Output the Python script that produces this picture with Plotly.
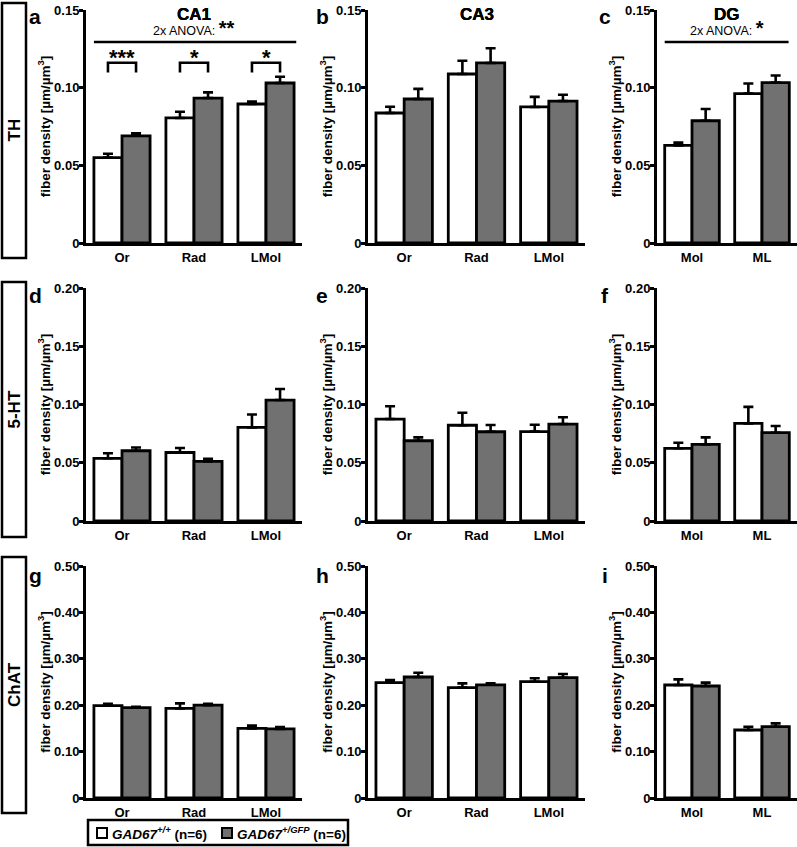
import plotly.graph_objects as go

# ---------------- data ----------------
ca_regions = ["Or", "Rad", "LMol"]
dg_regions = ["Mol", "ML"]

# TH
th_ca1_wt = [0.055, 0.0805, 0.0895]
th_ca1_wt_err = [0.0025, 0.004, 0.0015]
th_ca1_gfp = [0.069, 0.0933, 0.103]
th_ca1_gfp_err = [0.0017, 0.0037, 0.004]
th_ca3_wt = [0.0837, 0.1088, 0.0876]
th_ca3_wt_err = [0.004, 0.0085, 0.0065]
th_ca3_gfp = [0.0927, 0.1159, 0.0914]
th_ca3_gfp_err = [0.0065, 0.0095, 0.004]
th_dg_wt = [0.0628, 0.0962]
th_dg_wt_err = [0.0018, 0.0065]
th_dg_gfp = [0.0787, 0.1033]
th_dg_gfp_err = [0.0076, 0.0045]

# 5-HT
ht_ca1_wt = [0.0538, 0.0588, 0.0804]
ht_ca1_wt_err = [0.0043, 0.0038, 0.011]
ht_ca1_gfp = [0.0603, 0.0512, 0.1038]
ht_ca1_gfp_err = [0.0028, 0.0022, 0.0095]
ht_ca3_wt = [0.0875, 0.0822, 0.0768]
ht_ca3_wt_err = [0.011, 0.0107, 0.0058]
ht_ca3_gfp = [0.0689, 0.0766, 0.0832]
ht_ca3_gfp_err = [0.0029, 0.0058, 0.0058]
ht_dg_wt = [0.0624, 0.0838]
ht_dg_wt_err = [0.0048, 0.0142]
ht_dg_gfp = [0.0658, 0.0758]
ht_dg_gfp_err = [0.006, 0.0057]

# ChAT
chat_ca1_wt = [0.199, 0.193, 0.150]
chat_ca1_wt_err = [0.004, 0.011, 0.006]
chat_ca1_gfp = [0.1946, 0.200, 0.149]
chat_ca1_gfp_err = [0.002, 0.003, 0.004]
chat_ca3_wt = [0.2486, 0.2378, 0.2507]
chat_ca3_wt_err = [0.0058, 0.0092, 0.0073]
chat_ca3_gfp = [0.2608, 0.244, 0.2593]
chat_ca3_gfp_err = [0.0092, 0.003, 0.0079]
chat_dg_wt = [0.2435, 0.1465]
chat_dg_wt_err = [0.0122, 0.0072]
chat_dg_gfp = [0.2414, 0.1537]
chat_dg_gfp_err = [0.0072, 0.0072]

row_markers = ["TH", "5-HT", "ChAT"]
panel_letters = ["a", "b", "c", "d", "e", "f", "g", "h", "i"]
panel_titles = ["CA1", "CA3", "DG"]
row_ymax = [0.15, 0.20, 0.50]
row_tickvals = [[0, 0.05, 0.10, 0.15],
                [0, 0.05, 0.10, 0.15, 0.20],
                [0, 0.10, 0.20, 0.30, 0.40, 0.50]]
row_ticktext = [["0", "0.05", "0.10", "0.15"],
                ["0", "0.05", "0.10", "0.15", "0.20"],
                ["0", "0.10", "0.20", "0.30", "0.40", "0.50"]]

wt_name = "<i>GAD67<sup>+/+</sup></i> (n=6)"
gfp_name = "<i>GAD67<sup>+/GFP</sup></i> (n=6)"

panels = [
    (ca_regions, th_ca1_wt, th_ca1_wt_err, th_ca1_gfp, th_ca1_gfp_err),
    (ca_regions, th_ca3_wt, th_ca3_wt_err, th_ca3_gfp, th_ca3_gfp_err),
    (dg_regions, th_dg_wt, th_dg_wt_err, th_dg_gfp, th_dg_gfp_err),
    (ca_regions, ht_ca1_wt, ht_ca1_wt_err, ht_ca1_gfp, ht_ca1_gfp_err),
    (ca_regions, ht_ca3_wt, ht_ca3_wt_err, ht_ca3_gfp, ht_ca3_gfp_err),
    (dg_regions, ht_dg_wt, ht_dg_wt_err, ht_dg_gfp, ht_dg_gfp_err),
    (ca_regions, chat_ca1_wt, chat_ca1_wt_err, chat_ca1_gfp, chat_ca1_gfp_err),
    (ca_regions, chat_ca3_wt, chat_ca3_wt_err, chat_ca3_gfp, chat_ca3_gfp_err),
    (dg_regions, chat_dg_wt, chat_dg_wt_err, chat_dg_gfp, chat_dg_gfp_err),
]

# ---------------- layout geometry (pixels) ----------------
W, H = 797, 847
FONT = "Liberation Sans, Arial, sans-serif"
GRAY = "#717171"
col_px = [(86, 302), (368, 585), (657, 797)]
row_px = [(10, 243), (288, 521), (566, 798)]
row_box_px = [(3, 258), (282, 537), (557, 813)]
letter_x_px = [35, 322, 605]
letter_y_px = [17, 295, 575]


def px_x(v):
    return v / W


def px_y(v):
    return 1 - v / H


fig = go.Figure()

for i, (cats, wt, wt_err, gfp, gfp_err) in enumerate(panels):
    r, c = divmod(i, 3)
    ax = "" if i == 0 else str(i + 1)
    zeros = [0] * len(cats)
    for name, vals, err, fill in [(wt_name, wt, wt_err, "white"), (gfp_name, gfp, gfp_err, GRAY)]:
        fig.add_trace(go.Bar(
            x=cats, y=vals, name=name, xaxis="x" + ax, yaxis="y" + ax,
            marker=dict(color=fill, line=dict(color="black", width=2.8)),
            error_y=dict(type="data", array=err, arrayminus=zeros, symmetric=False,
                         color="black", thickness=2.6, width=5),
            showlegend=False,
        ))

    x0, x1 = col_px[c]
    y0, y1 = row_px[r]
    fig.layout["xaxis" + ax] = dict(
        domain=[px_x(x0), px_x(x1)], anchor="y" + ax, type="category",
        range=[-0.5, len(cats) - 0.5], showline=True, linewidth=3, linecolor="black",
        ticks="", showgrid=False, zeroline=False,
        tickfont=dict(family=FONT, size=13, color="black", weight="bold"),
    )
    fig.layout["yaxis" + ax] = dict(
        domain=[px_y(y1), px_y(y0)], anchor="x" + ax, range=[0, row_ymax[r]],
        showline=True, linewidth=3, linecolor="black", showgrid=False, zeroline=False,
        ticks="outside", ticklen=4, tickwidth=2.5, tickcolor="black", ticklabelstandoff=-3,
        tickvals=row_tickvals[r], ticktext=row_ticktext[r],
        tickfont=dict(family=FONT, size=13, color="black", weight="bold"),
        title=dict(text="fiber density [µm/µm<sup>3</sup>]", standoff=1,
                   font=dict(family=FONT, size=13.5, color="black", weight="bold")),
    )

    # panel title and letter
    fig.add_annotation(text=panel_titles[c], xref="x" + ax + " domain", yref="y" + ax + " domain",
                       x=0.5, y=(y1 - 14) / (y1 - y0), xanchor="center", yanchor="middle",
                       showarrow=False, font=dict(family=FONT, size=17, color="black", weight="bold"))
    fig.add_annotation(text=panel_letters[i], xref="paper", yref="paper",
                       x=px_x(letter_x_px[c]), y=px_y(letter_y_px[r]), xanchor="center", yanchor="middle",
                       showarrow=False, font=dict(family=FONT, size=21, color="black", weight="bold"))

# row marker boxes
for r, label in enumerate(row_markers):
    b0, b1 = row_box_px[r]
    fig.add_shape(type="rect", xref="paper", yref="paper",
                  x0=px_x(2), x1=px_x(26), y0=px_y(b1), y1=px_y(b0),
                  line=dict(color="black", width=2.5), fillcolor="white")
    fig.add_annotation(text=label, xref="paper", yref="paper", textangle=-90,
                       x=px_x(14), y=px_y((b0 + b1) / 2), xanchor="center", yanchor="middle",
                       showarrow=False, font=dict(family=FONT, size=17, color="black", weight="bold"))

# significance marks
half = 0.195
for k, stars in enumerate(["***", "*", "*"]):
    fig.add_shape(type="path", xref="x", yref="y", line=dict(color="black", width=2.6),
                  path=f"M {k - half},0.1098 L {k - half},0.1160 L {k + half},0.1160 L {k + half},0.1098")
    fig.add_annotation(text=stars, xref="x", yref="y", x=k, y=0.1100, xanchor="center", yanchor="bottom",
                       showarrow=False, font=dict(family=FONT, size=22, color="black", weight="bold"))

for ax, xr, stars in [("", (-0.39, 2.42), "**"), ("3", (-0.39, 1.38), "*")]:
    fig.add_shape(type="line", xref="x" + ax, yref="y" + ax, x0=xr[0], x1=xr[1], y0=0.1294, y1=0.1294,
                  line=dict(color="black", width=2.6))
    fig.add_annotation(text=f"2x ANOVA: <span style='font-size:20px'><b>{stars}</b></span>",
                       xref="x" + ax + " domain", yref="y" + ax, x=0.5, y=0.1302,
                       xanchor="center", yanchor="bottom",
                       showarrow=False, font=dict(family=FONT, size=12.5, color="black"))

# legend box, drawn by hand to match the compact original
fig.add_shape(type="rect", xref="paper", yref="paper", x0=px_x(88), x1=px_x(348),
              y0=px_y(845), y1=px_y(820), line=dict(color="black", width=2.5), fillcolor="white")
for sx, fill, name in [(97, "white", wt_name), (222, GRAY, gfp_name)]:
    fig.add_shape(type="rect", xref="paper", yref="paper", x0=px_x(sx), x1=px_x(sx + 10),
                  y0=px_y(838), y1=px_y(828), line=dict(color="black", width=2), fillcolor=fill)
    fig.add_annotation(text=name, xref="paper", yref="paper", x=px_x(sx + 13), y=px_y(833),
                       xanchor="left", yanchor="middle", showarrow=False,
                       font=dict(family=FONT, size=13.5, color="black", weight="bold"))

fig.update_layout(
    width=W, height=H, margin=dict(l=0, r=0, t=0, b=0, autoexpand=False),
    paper_bgcolor="white", plot_bgcolor="white",
    barmode="group", bargap=0.22, bargroupgap=0,
    font=dict(family=FONT, color="black"),
    showlegend=False,
)

# drop the default page margin so the figure fills the window
fig.write_html("out.html", config={"displayModeBar": False},
               post_script="document.body.style.margin = '0';")
